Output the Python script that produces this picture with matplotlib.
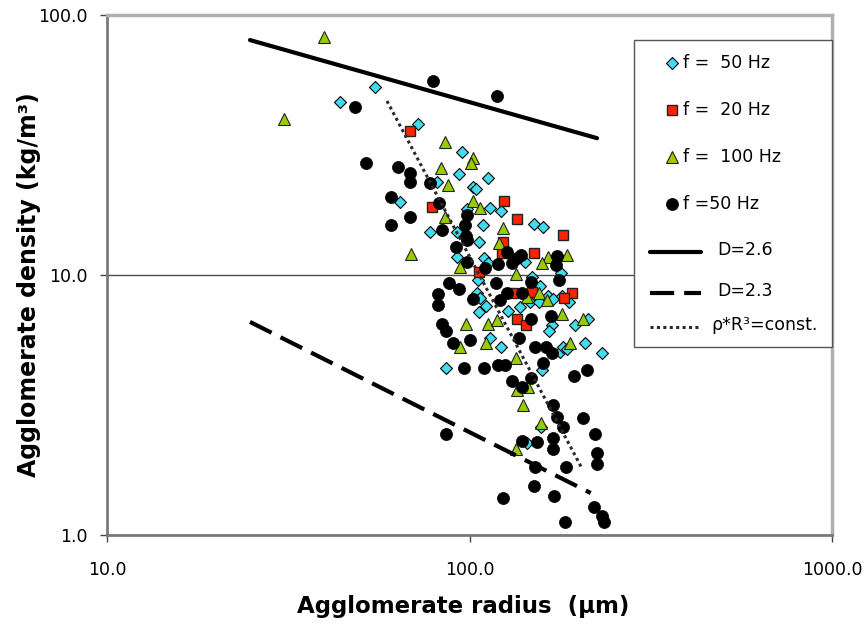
import matplotlib
matplotlib.use("Agg")
import matplotlib.pyplot as plt
import matplotlib.ticker as mticker
from matplotlib.lines import Line2D
from matplotlib.patches import Rectangle

W, H = 867, 628

# ── Data (agglomerate radius in µm, density in kg/m³) ─────────────────────────
# f = 50 Hz, diamonds
dia_r = [54.9, 43.9, 72.1, 95.3, 93.5, 112.5, 81.3, 102.2, 104.2, 64.3,
         113.9, 122.2, 98.4, 150.7, 159.5, 109.0, 77.8, 92.4, 106.2, 92.4,
         109.6, 142.2, 112.5, 178.8, 105.5, 148.8, 156.5, 104.9, 106.9, 164.7,
         170.0, 146.9, 155.5, 179.9, 188.1, 111.1, 127.7, 106.2, 137.8, 168.9,
         195.4, 212.3, 165.7, 113.9, 122.2, 177.7, 181.1, 185.8, 208.3, 232.0,
         86.1, 158.5, 157.5, 144.1]
dia_rho = [52.8, 46.3, 38.1, 29.7, 24.5, 23.6, 22.8, 21.8, 21.4, 19.1,
           18.1, 17.6, 17.9, 15.7, 15.3, 15.6, 14.6, 14.6, 13.4, 11.7,
           11.6, 11.2, 11.1, 10.2, 9.6, 9.8, 9.1, 8.5, 8.15, 8.3,
           8.1, 7.9, 7.9, 8.3, 7.9, 7.6, 7.3, 7.2, 7.5, 6.4,
           6.4, 6.8, 6.1, 5.7, 5.3, 5.06, 5.3, 5.2, 5.5, 5.0,
           4.4, 4.3, 2.6, 2.26]

# f = 20 Hz, squares
sq_r = [68.5, 78.8, 124.5, 135.2, 181.1, 123.7, 122.9, 150.7, 106.2, 148.8,
        131.8, 191.7, 182.3, 135.2, 143.2]
sq_rho = [35.8, 18.3, 19.3, 16.4, 14.3, 13.4, 12.2, 12.2, 10.3, 8.6,
          8.5, 8.5, 8.15, 6.8, 6.4]

# f = 100 Hz, triangles
tri_r = [39.7, 30.8, 85.5, 102.2, 100.9, 83.4, 87.2, 102.2, 106.9, 85.5,
         123.7, 120.6, 69.0, 164.7, 185.8, 158.5, 94.1, 134.4, 155.5, 144.1,
         163.6, 179.9, 205.6, 97.8, 112.5, 119.1, 94.1, 111.1, 189.3, 134.4,
         135.2, 145.0, 140.4, 157.5, 134.4]
tri_rho = [82.3, 39.8, 32.5, 28.2, 27.0, 25.8, 22.2, 19.3, 18.1, 16.7,
           15.2, 13.3, 12.0, 11.7, 11.9, 11.1, 10.7, 10.1, 8.5, 8.2,
           8.0, 7.1, 6.8, 6.5, 6.5, 6.7, 5.3, 5.5, 5.5, 4.8,
           3.6, 3.7, 3.16, 2.7, 2.14]

# f = 50 Hz, circles
cir_r = [79.3, 119.1, 48.3, 51.8, 63.5, 68.5, 68.5, 77.8, 60.7, 82.4,
         98.4, 68.5, 60.7, 97.2, 84.0, 97.8, 98.4, 91.8, 126.9, 98.4,
         138.7, 135.2, 174.3, 119.8, 131.0, 173.2, 110.3, 176.6, 147.8, 87.8,
         118.3, 93.5, 81.8, 126.9, 139.5, 102.2, 121.4, 81.8, 167.8, 147.8,
         84.0, 86.1, 90.0, 100.3, 136.9, 151.6, 162.6, 168.9, 96.6, 109.6,
         119.8, 125.3, 159.5, 194.2, 210.9, 131.0, 147.8, 139.5, 170.0, 174.3,
         205.6, 181.1, 221.9, 86.1, 139.5, 153.6, 170.0, 170.0, 224.7, 224.7,
         184.6, 151.6, 150.7, 171.0, 123.7, 220.5, 232.0, 235.0, 183.4]
cir_rho = [55.7, 48.8, 44.3, 27.0, 26.0, 24.7, 22.8, 22.6, 20.0, 18.9,
           17.0, 16.7, 15.6, 15.6, 14.9, 14.1, 13.6, 12.8, 12.3, 11.2,
           11.9, 11.6, 11.8, 11.0, 11.1, 10.9, 10.6, 9.6, 9.4, 9.3,
           9.3, 8.8, 8.45, 8.5, 8.5, 8.1, 8.0, 7.7, 6.95, 6.8,
           6.5, 6.1, 5.5, 5.6, 5.7, 5.3, 5.3, 5.0, 4.4, 4.4,
           4.5, 4.5, 4.6, 4.1, 4.3, 3.9, 4.0, 3.7, 3.16, 2.84,
           2.82, 2.6, 2.45, 2.45, 2.3, 2.28, 2.36, 2.14, 2.07, 1.87,
           1.83, 1.83, 1.54, 1.41, 1.39, 1.28, 1.18, 1.12, 1.12]

# fractal reference lines
d26_r = [24.8, 224.7]
d26_rho = [80.1, 33.6]
d23_r = [24.8, 216.0]
d23_rho = [6.6, 1.45]
const_r = [59.2, 204.0]
const_rho = [46.7, 1.81]

LEGEND_LABELS = ["f =  50 Hz", "f =  20 Hz", "f =  100 Hz", "f =50 Hz",
                 "D=2.6", "D=2.3", "ρ*R³=const."]

# ── Style ─────────────────────────────────────────────────────────────────────
CYAN  = "#40dcf0"
RED   = "#ff2200"
GREEN = "#99cc00"
GRID  = "#4d4d4d"

plt.rcParams.update({
    "font.family": "DejaVu Sans",
    "font.size":   13,
})

DIA = dict(ls="none", marker="D", ms=6.3, mfc=CYAN, mec="black", mew=0.8)
SQ  = dict(ls="none", marker="s", ms=7.6, mfc=RED, mec="#222222", mew=1.0)
TRI = dict(ls="none", marker="^", ms=8.0, mfc=GREEN, mec="#222222", mew=0.8)
CIR = dict(ls="none", marker="o", ms=8.7, mfc="black", mec="black", mew=0.5)
SOLID  = dict(color="black", lw=3.0, solid_capstyle="round")
DASHED = dict(color="black", lw=3.0, dashes=(5.8, 2.4), dash_capstyle="butt")
DOTTED = dict(color="#2a2a2a", lw=2.2, dashes=(1, 1.1))


def fxy(px, py):
    return px / W, 1 - py / H


def main():
    fig = plt.figure(figsize=(W / 100, H / 100), dpi=100)
    fig.patch.set_facecolor("white")
    ax = fig.add_axes([107 / W, 1 - 535 / H, (832 - 107) / W, (535 - 15) / H])

    ax.plot(dia_r, dia_rho, zorder=3, **DIA)
    ax.plot(sq_r, sq_rho, zorder=3, **SQ)
    ax.plot(tri_r, tri_rho, zorder=3, **TRI)
    ax.plot(cir_r, cir_rho, zorder=3, **CIR)
    ax.plot(d26_r, d26_rho, zorder=4, **SOLID)
    ax.plot(d23_r, d23_rho, zorder=4, **DASHED)
    ax.plot(const_r, const_rho, zorder=4, **DOTTED)

    ax.set_xscale("log")
    ax.set_yscale("log")
    ax.set_xlim(10, 1000)
    ax.set_ylim(1, 100)
    ax.xaxis.set_major_locator(mticker.FixedLocator([10, 100, 1000]))
    ax.yaxis.set_major_locator(mticker.FixedLocator([1, 10, 100]))
    ax.xaxis.set_minor_locator(mticker.NullLocator())
    ax.yaxis.set_minor_locator(mticker.NullLocator())
    fmt = mticker.FuncFormatter(lambda v, _: f"{v:.1f}")
    ax.xaxis.set_major_formatter(fmt)
    ax.yaxis.set_major_formatter(fmt)
    ax.tick_params(axis="both", direction="out", length=5, width=1, color="#444444",
                   labelsize=12.5)
    ax.tick_params(axis="x", pad=14)
    ax.tick_params(axis="y", pad=9)

    ax.set_axisbelow(True)
    ax.grid(True, axis="y", color=GRID, lw=1)
    for side in ("top", "right"):
        ax.spines[side].set_color("#b0b0b0")
        ax.spines[side].set_linewidth(2.5)
    for side in ("left", "bottom"):
        ax.spines[side].set_color("#7a7a7a")
        ax.spines[side].set_linewidth(2.0)

    fig.text(*fxy(463, 606), "Agglomerate radius  (μm)", ha="center", va="center",
             fontsize=16.5, fontweight="bold")
    fig.text(*fxy(29, 285), "Agglomerate density (kg/m³)", ha="center", va="center",
             rotation=90, fontsize=17, fontweight="bold")

    # ── Legend box drawn by hand (Excel layout) ───────────────────────────────
    box = Rectangle(fxy(634, 347), 198 / W, 307 / H, transform=fig.transFigure,
                    facecolor="white", edgecolor="#555555", lw=1, zorder=5)
    fig.add_artist(box)
    marker_styles = [DIA, SQ, TRI, CIR]
    marker_y = [63, 110, 157, 204]
    for style, y, label in zip(marker_styles, marker_y, LEGEND_LABELS[:4]):
        x0, y0 = fxy(672, y)
        fig.add_artist(Line2D([x0], [y0], transform=fig.transFigure, zorder=6, **style))
        fig.text(*fxy(683, y), label, ha="left", va="center", fontsize=12.5, zorder=6)
    line_styles = [SOLID, DASHED, DOTTED]
    line_y = [252, 293, 327]
    text_x = [717, 717, 711]
    for style, y, tx, label in zip(line_styles, line_y, text_x, LEGEND_LABELS[4:]):
        xa, ya = fxy(650, y)
        xb, _ = fxy(701, y)
        fig.add_artist(Line2D([xa, xb], [ya, ya], transform=fig.transFigure,
                              zorder=6, **style))
        fig.text(*fxy(tx, y - 2), label, ha="left", va="center", fontsize=12.5, zorder=6)

    fig.savefig("out.png", dpi=100, facecolor="white")


if __name__ == "__main__":
    main()
